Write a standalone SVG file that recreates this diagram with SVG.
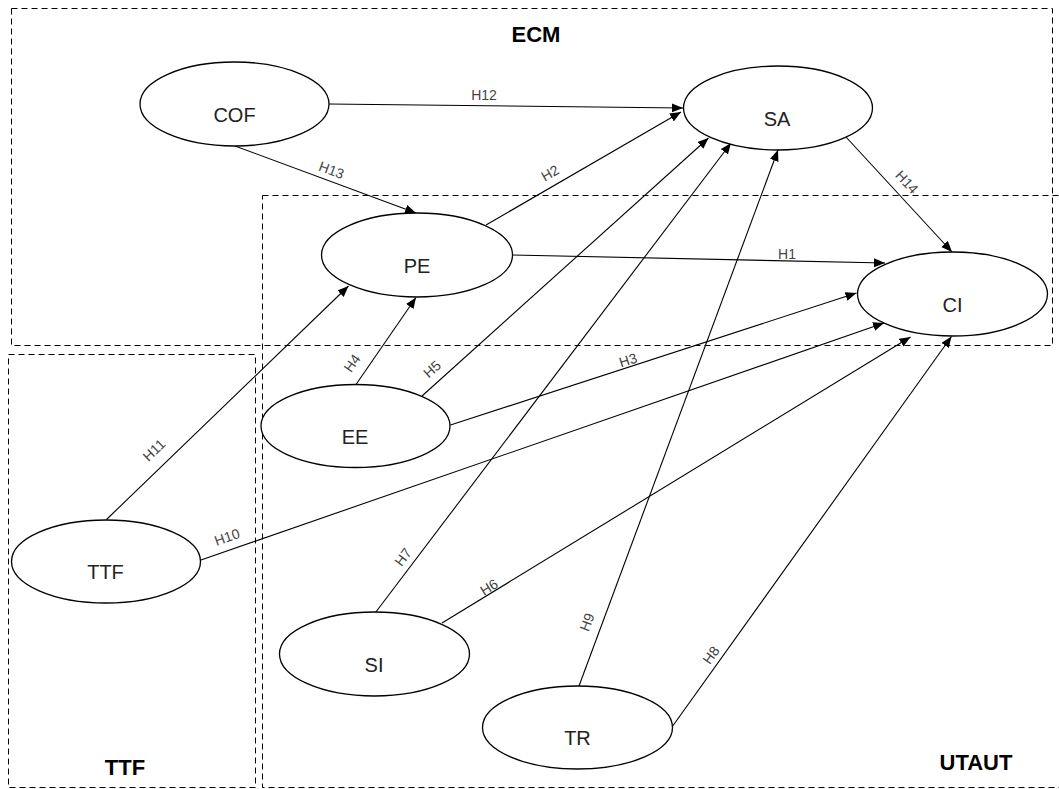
<svg xmlns="http://www.w3.org/2000/svg" width="1059" height="789" viewBox="0 0 1059 789">
<style>
.box{fill:none;stroke:#000;stroke-width:1;stroke-dasharray:6 4}
.grp{font-family:"Liberation Sans",Arial,sans-serif;font-weight:bold;font-size:22px;fill:#000;text-anchor:middle}
.node ellipse{fill:#fff;stroke:#000;stroke-width:1.3}
.node text{font-family:"Liberation Sans",Arial,sans-serif;font-size:20px;fill:#222;text-anchor:middle}
.edge{fill:none;stroke:#000;stroke-width:1.1;marker-end:url(#arr)}
.lbl{font-family:"Liberation Sans",Arial,sans-serif;font-size:14px;fill:#444;text-anchor:middle}
</style>
<defs>
<marker id="arr" markerUnits="userSpaceOnUse" markerWidth="12" markerHeight="10" refX="11" refY="4.5" orient="auto">
<path d="M0,0 L11,4.5 L0,9 z" fill="#000"/>
</marker>
</defs>
<rect width="1059" height="789" fill="#fff"/>
<g id="groups">
<rect class="box" x="11.5" y="8.5" width="1041" height="337"/>
<rect class="box" x="262.5" y="195.5" width="810" height="592"/>
<rect class="box" x="8.5" y="354.5" width="247" height="433"/>
<text class="grp" x="536" y="42">ECM</text>
<text class="grp" x="125" y="775">TTF</text>
<text class="grp" x="976" y="770">UTAUT</text>
</g>
<g id="connectors">
<line class="edge" x1="329" y1="104" x2="683" y2="108"/>
<line class="edge" x1="235" y1="146" x2="416" y2="213"/>
<line class="edge" x1="486" y1="225" x2="681" y2="112"/>
<line class="edge" x1="846" y1="137" x2="952" y2="252"/>
<line class="edge" x1="512.5" y1="255" x2="885" y2="263"/>
<line class="edge" x1="106.5" y1="519.5" x2="348.5" y2="286"/>
<line class="edge" x1="356" y1="384.5" x2="416" y2="297.5"/>
<line class="edge" x1="422" y1="396" x2="708.5" y2="138"/>
<line class="edge" x1="450.5" y1="425" x2="856.5" y2="293"/>
<line class="edge" x1="201" y1="560" x2="884" y2="323"/>
<line class="edge" x1="375.5" y1="612.5" x2="731" y2="143"/>
<line class="edge" x1="442" y1="623" x2="910.5" y2="337"/>
<line class="edge" x1="579" y1="686" x2="778" y2="150"/>
<line class="edge" x1="672" y1="727" x2="951.5" y2="336.5"/>
<text class="lbl" x="484" y="99.5">H12</text>
<text class="lbl" x="787" y="259">H1</text>
<text class="lbl" transform="translate(331.5,170) rotate(20.3)" y="5">H13</text>
<text class="lbl" transform="translate(550,173) rotate(-30.1)" y="5">H2</text>
<text class="lbl" transform="translate(907,182) rotate(47.3)" y="5">H14</text>
<text class="lbl" transform="translate(154,450) rotate(-43.9)" y="5">H11</text>
<text class="lbl" transform="translate(352,363) rotate(-55.1)" y="5">H4</text>
<text class="lbl" transform="translate(432,369) rotate(-42)" y="5">H5</text>
<text class="lbl" transform="translate(628,360) rotate(-18)" y="5">H3</text>
<text class="lbl" transform="translate(227,537) rotate(-19.1)" y="5">H10</text>
<text class="lbl" transform="translate(403,557) rotate(-52.9)" y="5">H7</text>
<text class="lbl" transform="translate(489,587) rotate(-31.4)" y="5">H6</text>
<text class="lbl" transform="translate(587,622) rotate(-69.6)" y="5">H9</text>
<text class="lbl" transform="translate(711,655) rotate(-54.4)" y="5">H8</text>
</g>
<g id="COF" class="node"><ellipse cx="234.5" cy="104" rx="94.5" ry="42"/><text x="234.5" y="122">COF</text></g>
<g id="PE" class="node"><ellipse cx="417" cy="255" rx="95.5" ry="42"/><text x="417" y="273">PE</text></g>
<g id="SA" class="node"><ellipse cx="778" cy="108" rx="94.5" ry="42"/><text x="777" y="126">SA</text></g>
<g id="CI" class="node"><ellipse cx="952.5" cy="294" rx="95" ry="42"/><text x="952.5" y="312">CI</text></g>
<g id="EE" class="node"><ellipse cx="355.5" cy="426" rx="94.5" ry="41.5"/><text x="355" y="444">EE</text></g>
<g id="TTF" class="node"><ellipse cx="106" cy="561.5" rx="94.5" ry="41.5"/><text x="105.5" y="579">TTF</text></g>
<g id="SI" class="node"><ellipse cx="374.5" cy="654" rx="95" ry="42"/><text x="374" y="672">SI</text></g>
<g id="TR" class="node"><ellipse cx="577.5" cy="727.5" rx="95" ry="41.5"/><text x="577.5" y="745">TR</text></g>
</svg>
